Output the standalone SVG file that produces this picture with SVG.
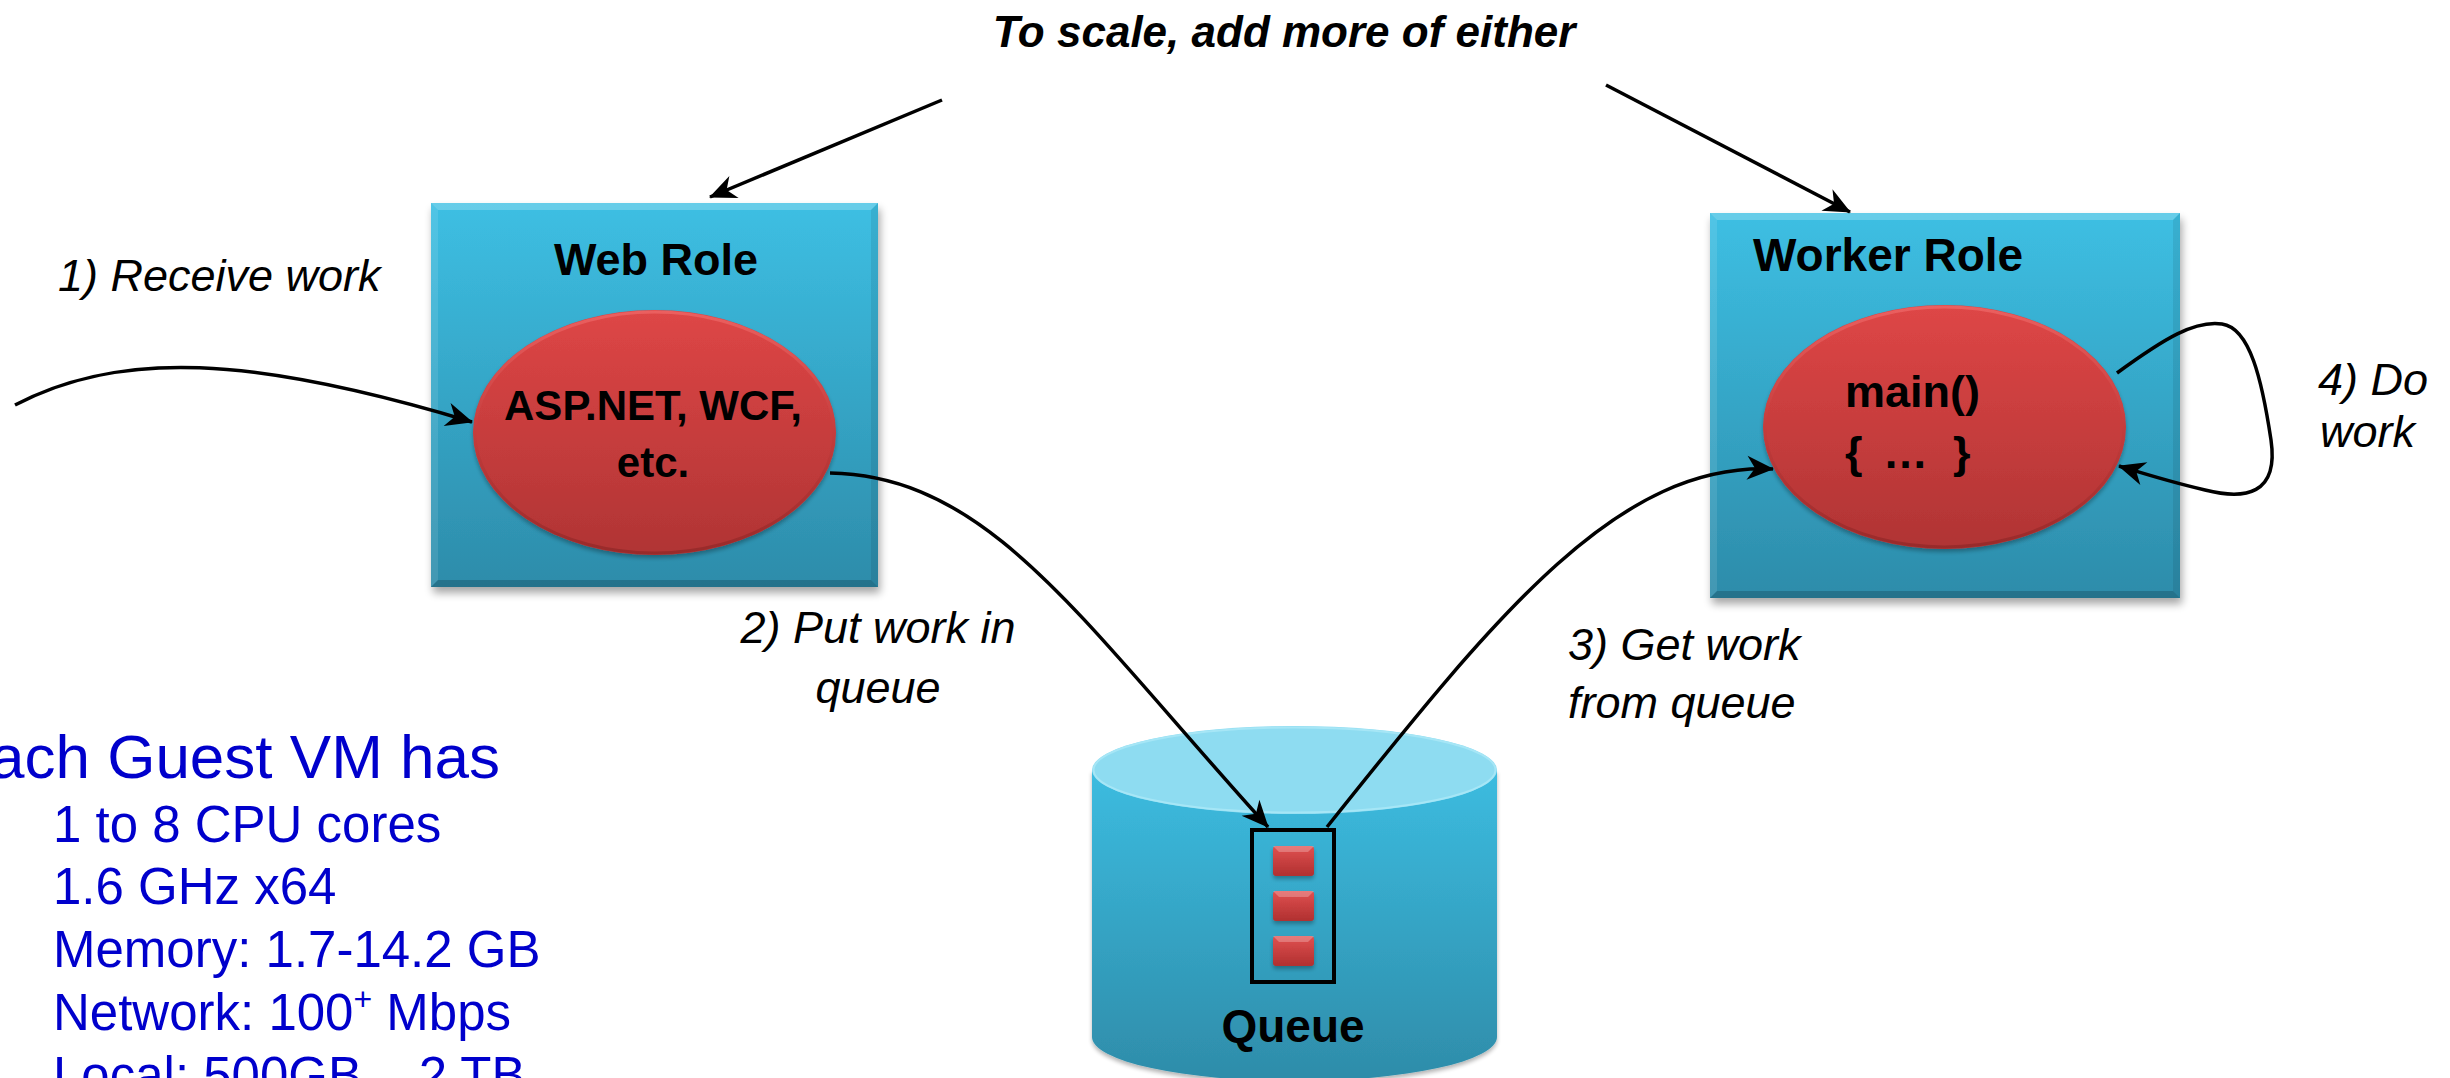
<svg xmlns="http://www.w3.org/2000/svg" width="2450" height="1078" viewBox="0 0 2450 1078">
<style>
.lbl{font-family:"Liberation Sans",Arial,sans-serif;font-style:italic;font-size:45px;fill:#000}
.ttl{font-family:"Liberation Sans",Arial,sans-serif;font-weight:bold;fill:#000}
.spec{font-family:"Liberation Sans",Arial,sans-serif;fill:#0000CC}
.conn{fill:none;stroke:#000;stroke-width:3.5}
.bev-t{fill:#fff;fill-opacity:.22}
.bev-l{fill:#fff;fill-opacity:.1}
.bev-r{fill:#000;fill-opacity:.08}
.bev-b{fill:#000;fill-opacity:.18}
</style>
<defs>
<linearGradient id="gBox" x1="0" y1="0" x2="0" y2="1">
<stop offset="0" stop-color="#3DBFE3"/>
<stop offset="1" stop-color="#2D8CAA"/>
</linearGradient>
<linearGradient id="gRed" x1="0" y1="0" x2="0" y2="1">
<stop offset="0" stop-color="#DE4646"/>
<stop offset="1" stop-color="#B03434"/>
</linearGradient>
<linearGradient id="gRedEdge" x1="0" y1="0" x2="0" y2="1">
<stop offset="0" stop-color="#F06A6A"/>
<stop offset="0.5" stop-color="#C43C3C"/>
<stop offset="1" stop-color="#8E2626"/>
</linearGradient>
<linearGradient id="gCyl" x1="0" y1="0" x2="0" y2="1">
<stop offset="0" stop-color="#3CBCE0"/>
<stop offset="1" stop-color="#2E8CA9"/>
</linearGradient>
<linearGradient id="gSq" x1="0" y1="0" x2="0" y2="1">
<stop offset="0" stop-color="#E05050"/>
<stop offset="1" stop-color="#B03030"/>
</linearGradient>
<filter id="shadow" x="-10%" y="-10%" width="125%" height="125%">
<feGaussianBlur in="SourceAlpha" stdDeviation="4"/>
<feOffset dx="2" dy="6" result="b"/>
<feComponentTransfer><feFuncA type="linear" slope="0.35"/></feComponentTransfer>
<feMerge><feMergeNode/><feMergeNode in="SourceGraphic"/></feMerge>
</filter>
<filter id="soft" x="-10%" y="-10%" width="120%" height="130%">
<feGaussianBlur in="SourceAlpha" stdDeviation="2"/>
<feOffset dx="0" dy="3"/>
<feComponentTransfer><feFuncA type="linear" slope="0.3"/></feComponentTransfer>
<feMerge><feMergeNode/><feMergeNode in="SourceGraphic"/></feMerge>
</filter>
<marker id="ah" markerUnits="userSpaceOnUse" viewBox="-28 -14 30 28" refX="0" refY="0" markerWidth="30" markerHeight="28" orient="auto">
<path d="M1,0 L-26,-12 L-18,0 L-26,12 Z" fill="#000"/>
</marker>
</defs>
<rect width="2450" height="1078" fill="#fff"/>

<g id="web-role">
<rect x="431" y="203" width="447" height="384" fill="url(#gBox)" filter="url(#shadow)"/>
<polygon class="bev-t" points="431,203 878,203 871,210 438,210"/>
<polygon class="bev-l" points="431,203 438,210 438,580 431,587"/>
<polygon class="bev-r" points="878,203 878,587 871,580 871,210"/>
<polygon class="bev-b" points="431,587 878,587 871,580 438,580"/>
<text class="ttl" x="656" y="275" font-size="45" text-anchor="middle">Web Role</text>
<g id="web-app">
<ellipse cx="654.5" cy="432.5" rx="181.5" ry="122.5" fill="url(#gRed)" filter="url(#soft)"/>
<ellipse cx="654.5" cy="432.5" rx="179.5" ry="120.5" fill="none" stroke="url(#gRedEdge)" stroke-width="3" stroke-opacity=".7"/>
<text class="ttl" x="653" y="420" font-size="42" text-anchor="middle">ASP.NET, WCF,</text>
<text class="ttl" x="653" y="477" font-size="42" text-anchor="middle">etc.</text>
</g>
</g>

<g id="worker-role">
<rect x="1710" y="213" width="470" height="385" fill="url(#gBox)" filter="url(#shadow)"/>
<polygon class="bev-t" points="1710,213 2180,213 2173,220 1717,220"/>
<polygon class="bev-l" points="1710,213 1717,220 1717,591 1710,598"/>
<polygon class="bev-r" points="2180,213 2180,598 2173,591 2173,220"/>
<polygon class="bev-b" points="1710,598 2180,598 2173,591 1717,591"/>
<text class="ttl" x="1753" y="271" font-size="46">Worker Role</text>
<g id="worker-app">
<ellipse cx="1944.5" cy="427" rx="181.5" ry="122" fill="url(#gRed)" filter="url(#soft)"/>
<ellipse cx="1944.5" cy="427" rx="179.5" ry="120" fill="none" stroke="url(#gRedEdge)" stroke-width="3" stroke-opacity=".7"/>
<text class="ttl" x="1845" y="407" font-size="45">main()</text>
<text class="ttl" x="1845" y="468" font-size="45">{</text>
<text class="ttl" x="1883" y="468" font-size="45">…</text>
<text class="ttl" x="1953" y="468" font-size="45">}</text>
</g>
</g>

<g id="queue">
<path d="M1092,770 L1092,1037 A202.5,44 0 0 0 1497,1037 L1497,770 Z" fill="url(#gCyl)" filter="url(#soft)"/>
<ellipse cx="1294.5" cy="770" rx="202.5" ry="44" fill="#8EDCF1"/>
<ellipse cx="1294.5" cy="770" rx="201" ry="42.5" fill="none" stroke="#A6E6F6" stroke-width="2"/>
<rect x="1252" y="830" width="82" height="152" fill="none" stroke="#000" stroke-width="4"/>
<g filter="url(#soft)">
<rect x="1273" y="846" width="41" height="30" rx="3" fill="url(#gSq)"/>
<rect x="1273" y="891" width="41" height="30" rx="3" fill="url(#gSq)"/>
<rect x="1273" y="936" width="41" height="30" rx="3" fill="url(#gSq)"/>
</g>
<polygon points="1273,846 1314,846 1308,852 1279,852" fill="#fff" fill-opacity=".25"/>
<polygon points="1273,891 1314,891 1308,897 1279,897" fill="#fff" fill-opacity=".25"/>
<polygon points="1273,936 1314,936 1308,942 1279,942" fill="#fff" fill-opacity=".25"/>
<text class="ttl" x="1293" y="1042" font-size="46" text-anchor="middle">Queue</text>
</g>

<g id="connectors">
<line class="conn" x1="942" y1="100" x2="710" y2="197" marker-end="url(#ah)"/>
<line class="conn" x1="1606" y1="85" x2="1850" y2="212" marker-end="url(#ah)"/>
<path class="conn" d="M15,405 C120,350 250,355 472,422" marker-end="url(#ah)"/>
<path class="conn" d="M830,473 C990,476 1080,620 1268,827" marker-end="url(#ah)"/>
<path class="conn" d="M1327,827 C1500,610 1620,462 1773,469" marker-end="url(#ah)"/>
<path class="conn" d="M2117,373 C2165,338 2195,320 2222,324 C2250,328 2262,380 2271,440 C2279,495 2245,500 2205,490 C2170,482 2145,474 2119,466" marker-end="url(#ah)"/>
</g>

<g id="labels">
<text class="ttl" x="1284" y="47" font-size="44" font-style="italic" text-anchor="middle">To scale, add more of either</text>
<text class="lbl" x="58" y="291">1) Receive work</text>
<text class="lbl" x="878" y="643" text-anchor="middle">2) Put work in</text>
<text class="lbl" x="878" y="703" text-anchor="middle">queue</text>
<text class="lbl" x="1568" y="660">3) Get work</text>
<text class="lbl" x="1568" y="718">from queue</text>
<text class="lbl" x="2318" y="395">4) Do</text>
<text class="lbl" x="2320" y="447">work</text>
</g>

<g id="vm-specs">
<text class="spec" x="500" y="778" font-size="62" text-anchor="end">Each Guest VM has</text>
<text class="spec" x="53" y="842" font-size="51">1 to 8 CPU cores</text>
<text class="spec" x="53" y="904" font-size="51">1.6 GHz x64</text>
<text class="spec" x="53" y="967" font-size="51">Memory: 1.7-14.2 GB</text>
<text class="spec" x="53" y="1030" font-size="51">Network: 100<tspan font-size="32" dy="-20">+</tspan><tspan dy="20"> Mbps</tspan></text>
<text class="spec" x="53" y="1093" font-size="51">Local: 500GB – 2 TB</text>
</g>
</svg>
